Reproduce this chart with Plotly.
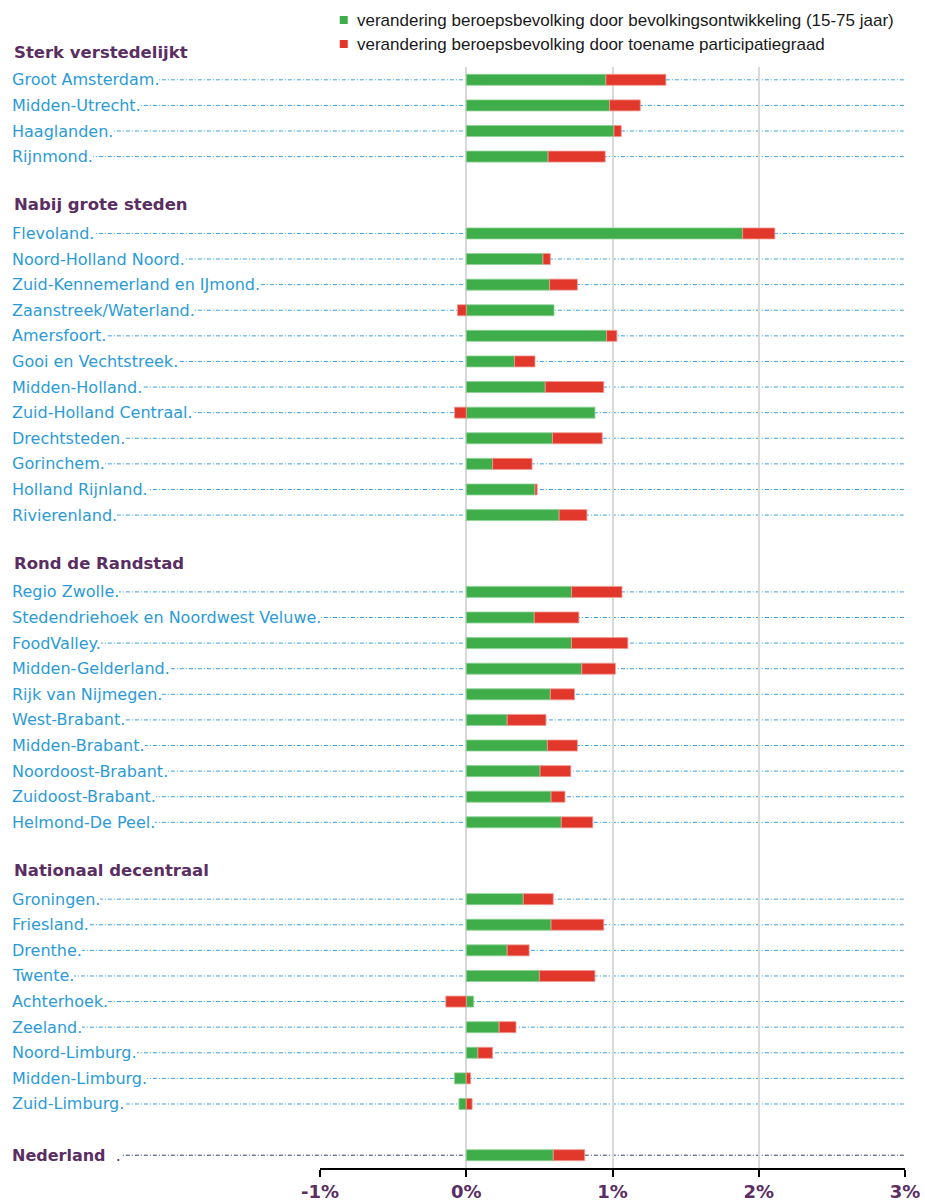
import plotly.graph_objects as go

# rijen van boven naar beneden; spaties = lege regel, kopjes staan in headers
regions = [
    "Groot Amsterdam", "Midden-Utrecht", "Haaglanden", "Rijnmond", " ",
    "Nabij grote steden",
    "Flevoland", "Noord-Holland Noord", "Zuid-Kennemerland en IJmond", "Zaanstreek/Waterland",
    "Amersfoort", "Gooi en Vechtstreek", "Midden-Holland", "Zuid-Holland Centraal",
    "Drechtsteden", "Gorinchem", "Holland Rijnland", "Rivierenland", "  ",
    "Rond de Randstad",
    "Regio Zwolle", "Stedendriehoek en Noordwest Veluwe", "FoodValley", "Midden-Gelderland",
    "Rijk van Nijmegen", "West-Brabant", "Midden-Brabant", "Noordoost-Brabant",
    "Zuidoost-Brabant", "Helmond-De Peel", "   ",
    "Nationaal decentraal",
    "Groningen", "Friesland", "Drenthe", "Twente", "Achterhoek", "Zeeland",
    "Noord-Limburg", "Midden-Limburg", "Zuid-Limburg", "    ",
    "Nederland",
]
headers = ["Nabij grote steden", "Rond de Randstad", "Nationaal decentraal"]
top_header = "Sterk verstedelijkt"

# verandering door bevolkingsontwikkeling (15-75 jaar), in %
bevolking = [
    0.955, 0.98, 1.01, 0.56, None,
    None,
    1.89, 0.525, 0.57, 0.60, 0.96, 0.33, 0.54, 0.88, 0.59, 0.18, 0.47, 0.635, None,
    None,
    0.72, 0.465, 0.72, 0.79, 0.575, 0.28, 0.555, 0.505, 0.58, 0.65, None,
    None,
    0.39, 0.58, 0.28, 0.50, 0.05, 0.225, 0.08, -0.08, -0.05, None,
    0.595,
]
# verandering door toename participatiegraad, in %
participatie = [
    0.41, 0.21, 0.05, 0.39, None,
    None,
    0.22, 0.05, 0.19, -0.06, 0.07, 0.14, 0.40, -0.08, 0.34, 0.27, 0.015, 0.19, None,
    None,
    0.345, 0.305, 0.385, 0.23, 0.165, 0.265, 0.205, 0.21, 0.095, 0.215, None,
    None,
    0.205, 0.36, 0.15, 0.38, -0.14, 0.115, 0.10, 0.03, 0.04, None,
    0.215,
]
series_names = [
    "verandering beroepsbevolking door bevolkingsontwikkeling (15-75 jaar)",
    "verandering beroepsbevolking door toename participatiegraad",
]
tick_vals = [-1, 0, 1, 2, 3]
tick_text = ["-1%", "0%", "1%", "2%", "3%"]

green = "#3fae4a"
red = "#e2372b"
blue = "#2b9bd8"
purple = "#5a2e63"

fig = go.Figure()
fig.add_trace(go.Bar(
    y=regions, x=bevolking, orientation="h", name=series_names[0],
    marker=dict(color=green, line=dict(color="#8fd196", width=0.8)),
))
fig.add_trace(go.Bar(
    y=regions, x=participatie, orientation="h", name=series_names[1],
    marker=dict(color=red, line=dict(color="#f09a94", width=0.8)),
))

# legenda boven de grafiek (handmatig, zodat de marges niet verschuiven)
for i, (name, col) in enumerate(zip(series_names, [green, red])):
    up = 47 - 24 * i
    fig.add_shape(type="rect", xref="paper", yref="paper",
                  xsizemode="pixel", ysizemode="pixel", xanchor=0.0406, yanchor=1,
                  x0=-4, x1=4, y0=up - 4, y1=up + 4,
                  fillcolor=col, line=dict(width=0))
    fig.add_annotation(xref="paper", yref="paper", x=0.0598, y=1, yshift=up,
                       xanchor="left", yanchor="middle", text=name, showarrow=False,
                       font=dict(family="Liberation Sans", size=17, color="#1a1a1a"))

# stippellijnen van label naar rechterrand + labels
label_x = -0.5265
for r in regions:
    if not r.strip() or r in headers:
        continue
    nl = r == "Nederland"
    fig.add_shape(type="line", xref="paper", yref="y", x0=label_x + 0.01, x1=1, y0=r, y1=r,
                  layer="below",
                  line=dict(color="#2d3f6e" if nl else "#3a9fe0", width=1, dash="4px,2px,1px,2px"))
    fig.add_annotation(
        xref="paper", yref="y", x=label_x, y=r, xanchor="left", yanchor="middle",
        text=("<b>" + r + "</b>  ." if nl else r + "."),
        showarrow=False, bgcolor="white", borderpad=0, borderwidth=0,
        font=dict(family="DejaVu Sans", size=16, color=purple if nl else blue),
    )

for h in headers:
    fig.add_annotation(xref="paper", yref="y", x=label_x, y=h, xanchor="left", yanchor="middle",
                       yshift=3, text="<b>" + h + "</b>", showarrow=False,
                       font=dict(family="DejaVu Sans", size=16.5, color=purple))
fig.add_annotation(xref="paper", yref="paper", x=label_x, y=1, xanchor="left", yanchor="middle",
                   yshift=15, text="<b>" + top_header + "</b>", showarrow=False,
                   font=dict(family="DejaVu Sans", size=16.5, color=purple))

fig.update_layout(
    width=925, height=1202,
    margin=dict(l=320, r=20, t=67, b=34),
    barmode="relative", bargap=0.57,
    paper_bgcolor="white", plot_bgcolor="rgba(0,0,0,0)",
    showlegend=False,
    xaxis=dict(range=[-1, 3], tickvals=tick_vals, ticktext=tick_text, automargin=False,
               showgrid=True, gridcolor="#d9d9d9", gridwidth=1.5,
               zeroline=False, showline=True, linecolor="black", linewidth=1.5,
               ticks="outside", ticklen=7, tickwidth=1.5, tickcolor="black",
               tickfont=dict(family="DejaVu Sans", size=18, color=purple, weight="bold"),
               fixedrange=True),
    yaxis=dict(type="category", categoryorder="array", categoryarray=regions, automargin=False,
               range=[len(regions) - 0.5, -0.5], showticklabels=False,
               showgrid=False, zeroline=False, showline=False, fixedrange=True),
)

# standaard body-marge van de pagina weghalen, zodat de figuur op 0,0 staat
fig.write_html("out.html", config={"displayModeBar": False},
               post_script="document.body.style.margin = '0';")
